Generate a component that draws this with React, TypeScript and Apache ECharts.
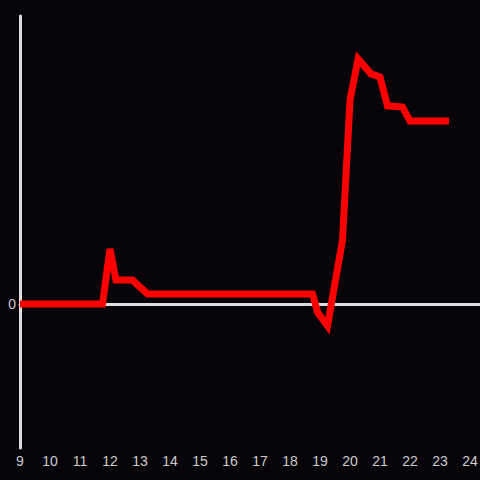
import React, { useEffect, useRef } from "react";
import * as echarts from "echarts";

const hours = [9, 11.75, 12.0, 12.2, 12.75, 13.25, 18.75, 18.93, 19.25, 19.75, 20.0, 20.27, 20.7, 21.0, 21.25, 21.75, 22.0, 23.3];
const values = [0, 0, 19.1, 8.3, 8.3, 3.5, 3.5, -3.1, -7.6, 22.2, 70.8, 85.1, 79.9, 78.8, 68.8, 68.4, 63.5, 63.5];
const yMin = -50;
const yMax = 100;
const xMin = 9;
const xMax = 24.333;

export default function App() {
  const ref = useRef<HTMLDivElement>(null);
  useEffect(() => {
    if (!ref.current) return;
    const chart = echarts.init(ref.current, undefined, { renderer: "svg" });
    chart.setOption({
      animation: false,
      backgroundColor: "#060408",
      grid: { left: 20, right: 0, top: 16, bottom: 32, outerBoundsMode: "none", containLabel: false },
      xAxis: [
        {
          type: "value",
          min: xMin,
          max: xMax,
          interval: 1,
          position: "bottom",
          axisLine: { show: false, onZero: false },
          axisTick: { show: false },
          splitLine: { show: false },
          axisLabel: {
            color: "#cccccc",
            fontSize: 14,
            margin: 6,
            formatter: (v: number) => (Math.abs(v - Math.round(v)) < 1e-6 ? String(Math.round(v)) : ""),
          },
        },
        {
          type: "value",
          min: xMin,
          max: xMax,
          interval: 1,
          axisLine: { show: true, onZero: true, lineStyle: { color: "#dddddd", width: 3 } },
          axisTick: { show: false },
          axisLabel: { show: false },
          splitLine: { show: false },
        },
      ],
      yAxis: {
        type: "value",
        min: yMin,
        max: yMax,
        interval: 50,
        axisLine: { show: true, lineStyle: { color: "#dddddd", width: 3 } },
        axisTick: { show: false },
        splitLine: { show: false },
        axisLabel: {
          color: "#cccccc",
          fontSize: 14,
          margin: 4,
          formatter: (v: number) => (v === 0 ? "0" : ""),
        },
      },
      series: [
        {
          type: "line",
          xAxisIndex: 0,
          data: hours.map((h, i) => [h, values[i]]),
          showSymbol: false,
          symbol: "none",
          lineStyle: { color: "#ff0000", width: 7, cap: "butt", join: "miter" },
          z: 5,
        },
      ],
    });
    return () => chart.dispose();
  }, []);
  return <div ref={ref} style={{ width: 480, height: 480, position: "fixed", left: 0, top: 0 }} />;
}
